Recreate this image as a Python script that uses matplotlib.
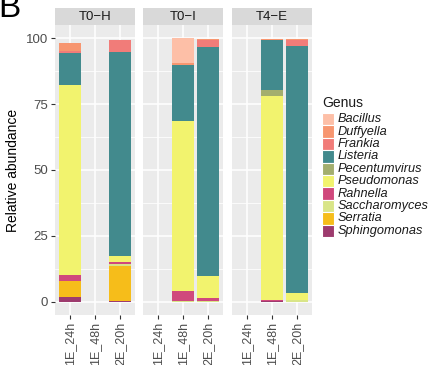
import numpy as np
import matplotlib
matplotlib.use('Agg')
from matplotlib import pyplot as plt
from matplotlib.patches import Rectangle

plt.rcParams['font.family'] = ['Liberation Sans', 'DejaVu Sans']

panels = ['T0\u2212H', 'T0\u2212I', 'T4\u2212E']
samples = ['1E_24h', '1E_48h', '2E_20h']
genera = ['Bacillus', 'Duffyella', 'Frankia', 'Listeria', 'Pecentumvirus',
          'Pseudomonas', 'Rahnella', 'Saccharomyces', 'Serratia', 'Sphingomonas']
colors = ['#FDBFA7', '#F79670', '#F17C79', '#428A8D', '#A3AE6E',
          '#F2F36E', '#D0487C', '#D9E588', '#F6BD1A', '#9D3B6E']

# relative abundance per panel, per sample (1E_24h, 1E_48h, 2E_20h)
Bacillus      = [[0, 0, 0],      [0, 9.4, 0],    [0, 0, 0]]
Duffyella     = [[2.9, 0, 0.3],  [0, 0.7, 0.3],  [0, 0.3, 0.4]]
Frankia       = [[0.8, 0, 4.5],  [0, 0, 2.6],    [0, 0, 2.2]]
Listeria      = [[12.2, 0, 77.2], [0, 21.5, 87.0], [0, 18.8, 93.7]]
Pecentumvirus = [[0, 0, 0],      [0, 0, 0],      [0, 2.3, 0]]
Pseudomonas   = [[72.3, 0, 2.5], [0, 64.4, 8.1], [0, 77.6, 2.6]]
Rahnella      = [[2.1, 0, 0.8],  [0, 3.6, 1.2],  [0, 0.4, 0]]
Saccharomyces = [[0, 0, 0.7],    [0, 0.4, 0.4],  [0, 0, 0.7]]
Serratia      = [[6.1, 0, 13.0], [0, 0, 0],      [0, 0, 0]]
Sphingomonas  = [[1.8, 0, 0.5],  [0, 0, 0],      [0, 0.2, 0]]

data = [Bacillus, Duffyella, Frankia, Listeria, Pecentumvirus,
        Pseudomonas, Rahnella, Saccharomyces, Serratia, Sphingomonas]

W, H = 430, 365
fig = plt.figure(figsize=(W / 100, H / 100), dpi=100)

lefts = [55, 143, 232]
pw = 80
top, bot = 25, 315
strip_h = 17

x = np.arange(len(samples))
for p, name in enumerate(panels):
    ax = fig.add_axes([lefts[p] / W, 1 - bot / H, pw / W, (bot - top) / H])
    ax.set_facecolor('#EBEBEB')
    # stack from the bottom: last genus at the bottom (ggplot order)
    bottom = np.zeros(len(samples))
    for g in reversed(range(len(genera))):
        vals = np.array(data[g][p], dtype=float)
        ax.bar(x, vals, width=0.9, bottom=bottom, color=colors[g], zorder=3)
        bottom += vals
    ax.set_xlim(-0.6, 2.6)
    ax.set_ylim(-5, 105)
    ax.set_xticks(x)
    ax.set_xticklabels(samples, rotation=90, fontsize=9, color='#4D4D4D')
    ax.set_yticks([0, 25, 50, 75, 100])
    ax.set_yticks([12.5, 37.5, 62.5, 87.5], minor=True)
    ax.grid(True, which='major', color='white', linewidth=1.1, zorder=0)
    ax.grid(True, which='minor', axis='y', color='white', linewidth=0.55, zorder=0)
    ax.tick_params(which='major', length=3, width=0.8, color='#333333', pad=2)
    ax.tick_params(which='minor', length=0)
    for s in ax.spines.values():
        s.set_visible(False)
    if p == 0:
        ax.set_yticklabels(['0', '25', '50', '75', '100'], fontsize=9.5, color='#4D4D4D')
        ax.set_ylabel('Relative abundance', fontsize=10, labelpad=4)
    else:
        ax.tick_params(axis='y', left=False, labelleft=False)
    sax = fig.add_axes([lefts[p] / W, 1 - top / H, pw / W, strip_h / H])
    sax.set_facecolor('#D9D9D9')
    sax.set_xticks([])
    sax.set_yticks([])
    for s in sax.spines.values():
        s.set_visible(False)
    sax.text(0.5, 0.5, name, ha='center', va='center', fontsize=9.5, color='#1A1A1A',
             transform=sax.transAxes)

# legend, ggplot style: stacked keys
key_x, key_y0, key_w, key_h = 322, 113, 11.5, 12.4
fig.text(key_x / W, 1 - 103 / H, 'Genus', fontsize=10, ha='left', va='center',
         color='#1A1A1A')
for i, (g, c) in enumerate(zip(genera, colors)):
    y0 = key_y0 + i * key_h
    fig.add_artist(Rectangle((key_x / W, 1 - (y0 + key_h) / H), key_w / W, key_h / H,
                             transform=fig.transFigure, facecolor=c,
                             edgecolor='white', linewidth=0.8))
    fig.text(338 / W, 1 - (y0 + key_h / 2) / H, g, fontsize=9.2, style='italic',
             ha='left', va='center', color='#1A1A1A')

fig.text(-0.005, 1.02, 'B', fontsize=24, ha='left', va='top')

plt.savefig('out.png', dpi=100)
